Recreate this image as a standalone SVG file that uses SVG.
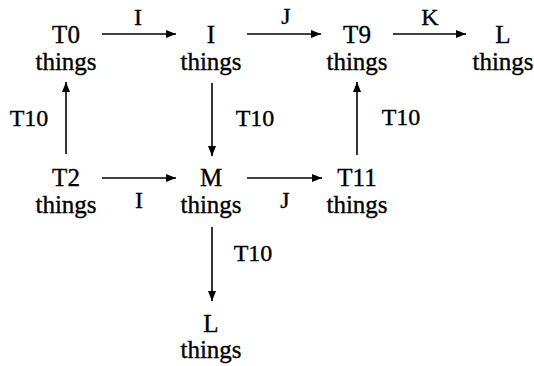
<svg xmlns="http://www.w3.org/2000/svg" width="534" height="366" viewBox="0 0 534 366">
<style>
text{font-family:'Liberation Serif','DejaVu Serif',serif;fill:#000;stroke:#000;stroke-width:0.35;text-anchor:middle}
.n{font-size:25px}
.l{font-size:24px}
.c line{stroke:#000;stroke-width:1.6}
</style>
<defs>
<marker id="ah" viewBox="0 0 10 8" refX="10" refY="4" markerWidth="10" markerHeight="8" markerUnits="userSpaceOnUse" orient="auto">
<path d="M0,0 L10,4 L0,8 Z" fill="#000"/>
</marker>
</defs>
<rect width="534" height="366" fill="#fff"/>
<g font-family="Liberation Serif, DejaVu Serif, serif">
<g id="n-T0"><text class="n" x="66" y="43">T0</text><text class="n" x="66" y="70">things</text></g>
<g id="n-I"><text class="n" x="211" y="43">I</text><text class="n" x="211" y="70">things</text></g>
<g id="n-T9"><text class="n" x="357" y="43">T9</text><text class="n" x="357" y="70">things</text></g>
<g id="n-L1"><text class="n" x="503" y="43">L</text><text class="n" x="503" y="70">things</text></g>
<g id="n-T2"><text class="n" x="66" y="186">T2</text><text class="n" x="66" y="213">things</text></g>
<g id="n-M"><text class="n" x="211" y="186">M</text><text class="n" x="211" y="213">things</text></g>
<g id="n-T11"><text class="n" x="357" y="186">T11</text><text class="n" x="357" y="213">things</text></g>
<g id="n-L2"><text class="n" x="211" y="332">L</text><text class="n" x="211" y="358">things</text></g>
</g>
<g id="connectors" class="c">
<line x1="102" y1="34" x2="176" y2="34" marker-end="url(#ah)"/>
<line x1="247" y1="34" x2="321" y2="34" marker-end="url(#ah)"/>
<line x1="393" y1="34" x2="466" y2="34" marker-end="url(#ah)"/>
<line x1="66" y1="154" x2="66" y2="82" marker-end="url(#ah)"/>
<line x1="212" y1="83" x2="212" y2="156" marker-end="url(#ah)"/>
<line x1="357" y1="155" x2="357" y2="82" marker-end="url(#ah)"/>
<line x1="102" y1="178" x2="176" y2="178" marker-end="url(#ah)"/>
<line x1="247" y1="178" x2="322" y2="178" marker-end="url(#ah)"/>
<line x1="212" y1="227" x2="212" y2="301" marker-end="url(#ah)"/>
</g>
<g id="labels" font-family="Liberation Serif, DejaVu Serif, serif">
<text class="l" x="138" y="25">I</text>
<text class="l" x="286" y="24">J</text>
<text class="l" x="430" y="25">K</text>
<text class="l" x="29" y="126">T10</text>
<text class="l" x="255" y="126">T10</text>
<text class="l" x="401" y="125">T10</text>
<text class="l" x="139" y="208">I</text>
<text class="l" x="285" y="208">J</text>
<text class="l" x="253" y="261">T10</text>
</g>
</svg>
